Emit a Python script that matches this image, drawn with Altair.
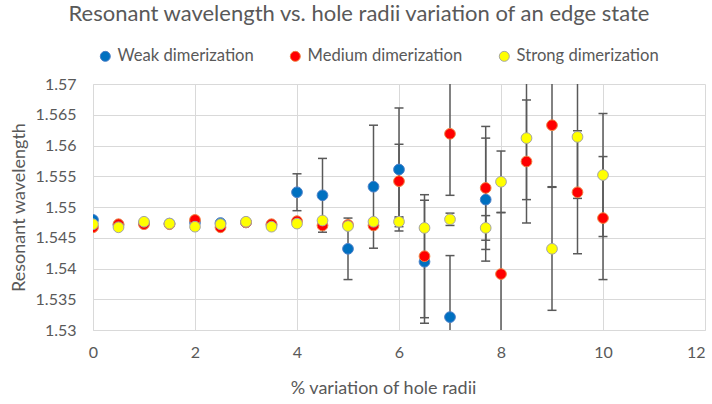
import altair as alt
import pandas as pd

series_names = ["Weak dimerization", "Medium dimerization", "Strong dimerization"]
fill_colors = ["#0070C0", "#FF0000", "#FFFF00"]
stroke_colors = ["#4A7FC8", "#F08040", "#A5A5A5"]

x_weak = [0, 0.5, 1, 1.5, 2, 2.5, 3, 3.5, 4, 4.5, 5, 5.5, 6, 6.5, 7, 7.7]
y_weak = [1.5479, 1.5471, 1.5474, 1.5473, 1.5475, 1.5474, 1.5475, 1.5471,
          1.5524, 1.5519, 1.5432, 1.5533, 1.5561, 1.5411, 1.5321, 1.5512]
err_weak = [0, 0, 0, 0, 0, 0, 0, 0, 0.003, 0.006, 0.005, 0.01, 0.01, 0.01, 0.01, 0.01]

x_med = [0, 0.5, 1, 1.5, 2, 2.5, 3, 3.5, 4, 4.5, 5, 5.5, 6, 6.5, 7, 7.7, 8, 8.5, 9, 9.5, 10]
y_med = [1.5467, 1.5472, 1.5472, 1.5472, 1.5479, 1.5467, 1.5475, 1.5472, 1.5477,
         1.5470, 1.5471, 1.5470, 1.5542, 1.5420, 1.5619, 1.5531, 1.5391, 1.5574,
         1.5633, 1.5524, 1.5482]
err_med = [0, 0, 0, 0, 0, 0, 0, 0, 0, 0, 0, 0, 0.006, 0.01, 0.01, 0.01, 0.01, 0.01,
           0.01, 0.01, 0.01]

x_str = [0, 0.5, 1, 1.5, 2, 2.5, 3, 3.5, 4, 4.5, 5, 5.5, 6, 6.5, 7, 7.7, 8, 8.5, 9, 9.5, 10]
y_str = [1.5472, 1.5467, 1.5476, 1.5473, 1.5468, 1.5472, 1.5476, 1.5468, 1.5473,
         1.5478, 1.5469, 1.5476, 1.5476, 1.5466, 1.5480, 1.5466, 1.5541, 1.5612,
         1.5432, 1.5614, 1.5552]
err_str = [0, 0, 0, 0, 0, 0, 0, 0, 0, 0, 0, 0, 0.0008, 0, 0.001, 0.002, 0.005, 0.01,
           0.01, 0.01, 0.01]

x_ticks = [0, 2, 4, 6, 8, 10, 12]
y_ticks = [1.53, 1.535, 1.54, 1.545, 1.55, 1.555, 1.56, 1.565, 1.57]

rows = []
for name, xs, ys, es in zip(series_names, [x_weak, x_med, x_str],
                            [y_weak, y_med, y_str], [err_weak, err_med, err_str]):
    for xv, yv, ev in zip(xs, ys, es):
        rows.append({"series": name, "x": xv, "y": yv, "err": ev,
                     "lo": yv - ev, "hi": yv + ev})
df = pd.DataFrame(rows)

FONT = "Lato"
GREY = "#595959"

xscale = alt.Scale(domain=[0, 12], nice=False)
yscale = alt.Scale(domain=[1.53, 1.57], nice=False, zero=False)

x_axis = alt.Axis(values=x_ticks, format="d", title="% variation of hole radii",
                  grid=True, ticks=False, labelPadding=14, titlePadding=19,
                  titleX=290,
                  labelOverlap=False, labelFlush=False,
                  labelAlign={"condition": {"test": "datum.value >= 12", "value": "right"},
                              "value": "center"})
y_axis = alt.Axis(values=y_ticks, format=".4~g", title="Resonant wavelength",
                  grid=True, ticks=False, labelPadding=17, titlePadding=7,
                  labelOverlap=False)

base = alt.Chart(df)
errs = base.transform_filter("datum.err > 0")

bars = errs.mark_rule(color=GREY, strokeWidth=1.5, clip=True).encode(
    x=alt.X("x:Q", scale=xscale, axis=x_axis),
    y=alt.Y("lo:Q", scale=yscale, axis=y_axis),
    y2=alt.Y2("hi"),
)
cap_lo = errs.mark_rule(color=GREY, strokeWidth=1.5, clip=True,
                        xOffset=-4.5, x2Offset=4.5).encode(
    x=alt.X("x:Q", scale=xscale, axis=x_axis), x2=alt.X2("x"),
    y=alt.Y("lo:Q", scale=yscale, axis=y_axis),
)
cap_hi = errs.mark_rule(color=GREY, strokeWidth=1.5, clip=True,
                        xOffset=-4.5, x2Offset=4.5).encode(
    x=alt.X("x:Q", scale=xscale, axis=x_axis), x2=alt.X2("x"),
    y=alt.Y("hi:Q", scale=yscale, axis=y_axis),
)

points = base.mark_point(filled=True, shape="circle", size=115, strokeWidth=1,
                         opacity=1, clip=True).encode(
    x=alt.X("x:Q", scale=xscale, axis=x_axis),
    y=alt.Y("y:Q", scale=yscale, axis=y_axis),
    fill=alt.Fill("series:N", scale=alt.Scale(domain=series_names, range=fill_colors),
                  legend=alt.Legend(title=None, orient="none", direction="horizontal",
                                    legendX=4, legendY=-36, symbolType="circle",
                                    symbolSize=100, columnPadding=33, labelOffset=4,
                                    symbolStrokeWidth=1)),
    stroke=alt.Stroke("series:N", scale=alt.Scale(domain=series_names, range=stroke_colors),
                      legend=None),
)

chart = alt.layer(bars, cap_lo, cap_hi, points).properties(
    width=612, height=246,
    autosize=alt.AutoSizeParams(type="none"),
    padding={"left": 93, "top": 84, "right": 7, "bottom": 74},
    title=alt.TitleParams("Resonant wavelength vs. hole radii variation of an edge state",
                          anchor="middle", frame="group", dx=-40, offset=22),
).configure_axis(
    labelFont=FONT, labelFontSize=16, labelColor=GREY, labelOverlap=False,
    titleFont=FONT, titleFontSize=18, titleColor=GREY, titleFontWeight="normal",
    gridColor="#D9D9D9", gridWidth=1, domainColor="#D9D9D9", domainWidth=1,
).configure_legend(
    labelFont=FONT, labelFontSize=16.6, labelColor=GREY, padding=0,
).configure_title(
    font=FONT, fontSize=22, color=GREY, fontWeight="normal",
).configure_view(stroke=None)

chart.save("out.html", embed_options={"renderer": "svg", "actions": False})
